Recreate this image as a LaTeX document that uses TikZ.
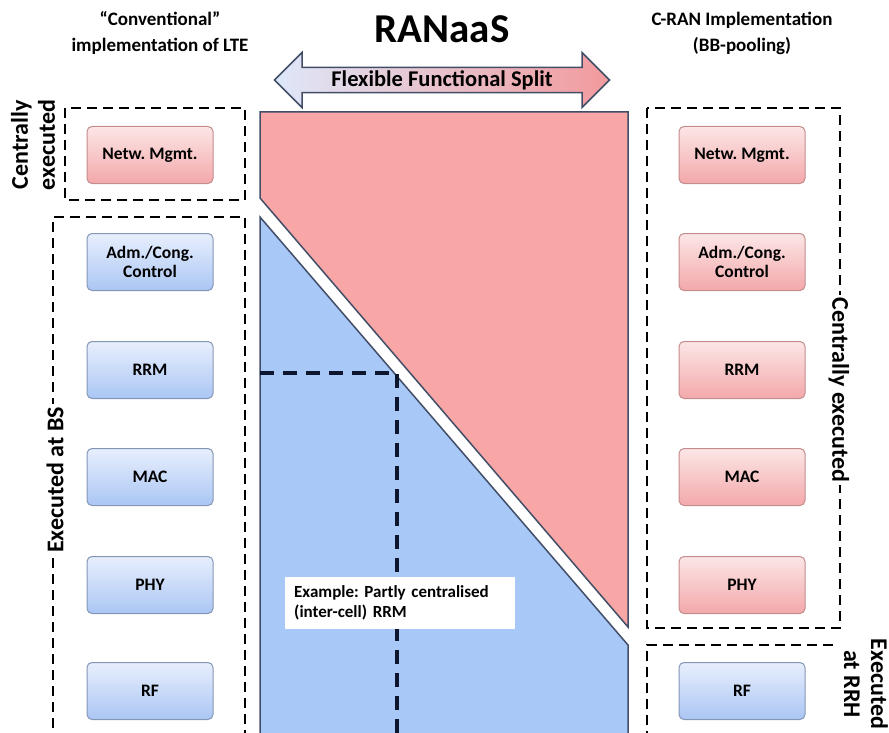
\documentclass[tikz,border=0pt]{standalone}
\usepackage{fontspec}
\setmainfont{Carlito}
\usetikzlibrary{shapes.arrows}
\definecolor{splitpink}{RGB}{248,166,166}
\definecolor{splitblue}{RGB}{168,200,247}
\definecolor{edgeblue}{RGB}{66,78,104}
\definecolor{boxpinktop}{RGB}{252,230,230}
\definecolor{boxpinkbot}{RGB}{243,168,170}
\definecolor{boxpinkedge}{RGB}{196,140,140}
\definecolor{boxbluetop}{RGB}{232,239,253}
\definecolor{boxbluebot}{RGB}{170,198,244}
\definecolor{boxblueedge}{RGB}{132,150,182}
\definecolor{arrowblue}{RGB}{222,232,250}
\definecolor{arrowpink}{RGB}{242,154,156}
\definecolor{navydash}{RGB}{14,22,46}
\frenchspacing
\begin{document}
\begin{tikzpicture}[x=1pt,y=-1pt,every node/.style={font=\bfseries},
  fnbox/.style={rounded corners=5pt,minimum width=126pt,minimum height=57pt,align=center,line width=1pt,font=\fontsize{17.5}{19}\selectfont\bfseries},
  pinkfn/.style={fnbox,draw=boxpinkedge,top color=boxpinktop,bottom color=boxpinkbot},
  bluefn/.style={fnbox,draw=boxblueedge,top color=boxbluetop,bottom color=boxbluebot},
  frame/.style={line width=2.8pt,dash pattern=on 10pt off 6pt},
  sidelabel/.style={fill=white,inner sep=3pt,align=center,font=\fontsize{24}{27}\selectfont\bfseries},
  headline/.style={align=center,font=\fontsize{19}{26}\selectfont\bfseries}]
\useasboundingbox (0,0) rectangle (889,733);
% split between central and local processing
\filldraw[fill=splitpink,draw=edgeblue,line width=1.5pt] (260,112) -- (628,112) -- (628,627) -- (260,198) -- cycle;
\filldraw[fill=splitblue,draw=edgeblue,line width=1.5pt] (260,217) -- (628,645) -- (628,740) -- (260,740) -- cycle;
\coordinate (cutleft) at (260,373);
\coordinate (cutcorner) at (397,373);
\coordinate (cutbottom) at (397,740);
\draw[navydash,line width=3.5pt,dash pattern=on 14pt off 9pt] (cutleft) -- (cutcorner) -- (cutbottom);
\node[fill=white,anchor=west,text width=212pt,align=left,inner sep=9pt,font=\fontsize{17}{20}\selectfont\bfseries] (example) at (285,603) {Example: Partly centralised\\(inter-cell) RRM};
% headers
\node[headline] (conv) at (160,33) {“Conventional”\\implementation of LTE};
\node[font=\fontsize{41}{44}\selectfont\bfseries] (ranaas) at (442,29) {RANaaS};
\node[headline] (cran) at (742,33) {C-RAN Implementation\\(BB-pooling)};
\node[double arrow,double arrow head extend=12.5pt,minimum height=335pt,minimum width=55pt,inner sep=0pt,left color=arrowblue,right color=arrowpink,draw=edgeblue,line width=1.5pt,font=\fontsize{22.5}{24}\selectfont\bfseries] (split) at (442,80) {Flexible Functional Split};
% dashed groups
\draw[frame] (65,108) rectangle (245,200);
\draw[frame] (245,740) -- (245,217) -- (53,217) -- (53,740);
\draw[frame] (647,108) rectangle (840,628);
\draw[frame] (833,645) -- (647,645) -- (647,740);
\node[sidelabel,rotate=90] (lcentral) at (33,145) {Centrally\\executed};
\node[sidelabel,rotate=90] (lbs) at (55,480) {Executed at BS};
\node[sidelabel,rotate=-90] (rcentral) at (839,390) {Centrally executed};
\node[sidelabel,rotate=-90] (rrrh) at (866,684) {Executed\\at RRH};
% conventional LTE stack
\node[pinkfn] (lnetw) at (150,155) {Netw. Mgmt.};
\node[bluefn] (ladm) at (150,262) {Adm./Cong.\\Control};
\node[bluefn] (lrrm) at (150,370) {RRM};
\node[bluefn] (lmac) at (150,477) {MAC};
\node[bluefn] (lphy) at (150,585) {PHY};
\node[bluefn] (lrf) at (150,691) {RF};
% C-RAN stack
\node[pinkfn] (rnetw) at (742,155) {Netw. Mgmt.};
\node[pinkfn] (radm) at (742,262) {Adm./Cong.\\Control};
\node[pinkfn] (rrrm) at (742,370) {RRM};
\node[pinkfn] (rmac) at (742,477) {MAC};
\node[pinkfn] (rphy) at (742,585) {PHY};
\node[bluefn] (rrf) at (742,691) {RF};
\end{tikzpicture}
\end{document}
